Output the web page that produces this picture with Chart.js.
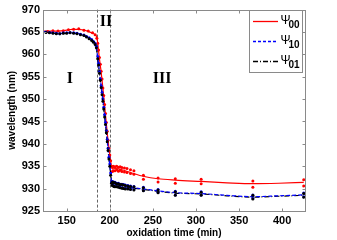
<!DOCTYPE html>
<html><head><meta charset="utf-8">
<script src="https://cdn.jsdelivr.net/npm/chart.js@4"></script>
<style>html,body{margin:0;padding:0;background:#fff}#wrap{width:337px;height:240px}</style>
</head><body><div id="wrap"><canvas id="c" width="337" height="240"></canvas></div>
<script>
// ---- data ----
const xTickValues = [150, 200, 250, 300, 350, 400];
const xMin = 122.5, xMax = 426.5;
const yMin = 925, yMax = 970, yStep = 5;

const redLineT = [122,130,140,150,156,162,168,174,179,183,185,188,190,193,197,200,202,203,206,210,216,224,240,256,276,306,336,366,396,425];
const redLineV = [965.2,965.2,965.2,965.4,965.6,965.6,965.5,965.2,964.8,964.4,963.8,959.0,956.0,950.5,942.5,937.5,935.0,934.4,934.5,934.4,934.1,933.6,932.7,932.2,931.9,931.6,931.3,931.1,931.2,931.4];

const psiLineT = [122,128,135,142,150,158,165,170,175,180,184,186,188,192,196,199,201,202.5,205,210,216,224,240,256,276,306,336,366,396,425];
const blueLineV = [965.1,965.0,964.8,964.7,964.8,964.8,964.6,964.3,963.9,963.2,962.0,959.3,956.1,949.8,942.9,937.0,933.6,931.3,931.1,930.9,930.6,930.3,929.9,929.5,929.1,928.9,928.5,928.2,928.4,928.6];
const blackLineV = [965.0,964.9,964.7,964.6,964.7,964.7,964.5,964.2,963.8,963.0,961.7,958.9,955.7,949.4,942.5,936.7,933.3,931.2,931.0,930.8,930.5,930.2,929.8,929.4,929.0,928.8,928.4,928.1,928.3,928.5];

const redPtT = [122,128,134,140,146,152,158,164,170,175,180,183,
185,186,187,188,189,190,191,192,193,194,195,196,197,198,199,200,201,202,
203,203,204,204,206,206,208,208,210,210,212,212,214,214,217,217,220,220,224,224,228,228,239,239,256,256,276,276,306,306,366,366,425,425];
const redPtV = [965.2,965.1,965.3,965.2,965.3,965.5,965.6,965.7,965.4,965.2,964.8,964.4,
963.6,962.5,961.0,959.3,957.8,956.2,954.5,952.5,950.8,948.8,946.8,944.8,942.8,940.8,939.0,937.5,936.2,935.0,
934.8,933.8,935.0,934.0,934.9,934.0,935.0,934.2,934.8,933.9,934.9,934.1,934.7,933.8,934.6,933.7,934.5,933.6,934.2,933.4,934.0,933.2,933.0,932.1,932.4,931.5,932.2,931.2,932.1,931.1,931.7,930.3,932.0,930.6];

const psiPtT = [122,126,130,134,138,142,146,150,154,158,162,166,170,173,176,179,181,183,184.5,
186,187,188,189,190,191,192,193,194,195,196,197,198,199,200,201,202,
203,203,204,204,205,205,206,206,208,208,210,210,212,212,214,214,216,216,218,218,221,221,224,224,228,228,239,239,256,256,276,276,306,306,366,366,425,425];
const bluePtV = [965.1,965.0,964.9,964.8,964.7,964.6,964.8,964.8,964.9,964.8,964.7,964.5,964.3,964.0,963.7,963.3,962.9,962.4,961.8,
959.5,958.0,956.2,954.5,953.0,951.5,950.0,948.2,946.5,944.8,943.0,941.0,939.0,937.0,935.5,933.5,931.5,
931.6,930.8,931.5,930.7,931.4,930.6,931.4,930.5,931.2,930.5,931.2,930.4,931.0,930.3,931.0,930.2,930.9,930.1,930.8,930.0,930.7,930.0,930.6,929.9,930.5,929.8,930.3,929.6,929.8,929.2,929.4,928.6,929.3,928.6,928.6,927.8,929.0,928.2];
const blackPtV = [965.0,964.9,964.8,964.7,964.6,964.6,964.7,964.7,964.8,964.7,964.6,964.4,964.2,963.9,963.5,963.1,962.7,962.2,961.5,
959.0,957.6,955.8,954.2,952.6,951.0,949.5,947.8,946.0,944.3,942.5,940.5,938.5,936.6,935.0,933.0,931.2,
931.5,930.7,931.4,930.6,931.3,930.5,931.3,930.4,931.1,930.4,931.1,930.3,930.9,930.2,930.9,930.1,930.8,930.0,930.7,929.9,930.6,929.9,930.5,929.8,930.4,929.7,930.2,929.5,929.7,929.1,929.3,928.5,929.2,928.5,928.5,927.7,928.9,928.1];

const phaseBounds = [185.5, 200.3];
const regionLabels = ['I', 'II', 'III'];
const regionT = [153.8, 195.5, 260.7];
const regionV = [954.5, 967.2, 954.5];

const seriesNames = ['Ψ', 'Ψ', 'Ψ'];
const seriesSubs = ['00', '10', '01'];
const seriesColors = ['#ff0000', '#0000ff', '#000000'];
const seriesDash = [[], [4, 2], [5, 2, 1, 2]];

const xTitle = 'oxidation time (min)';
const yTitle = 'wavelength (nm)';

// ---- build ----
const xy = (t, v) => t.map((x, i) => ({x: x, y: v[i]}));
const lineDs = (t, v, i, ord) => ({
  data: xy(t, v), showLine: true, borderColor: seriesColors[i], borderWidth: 1.2,
  borderDash: seriesDash[i], pointRadius: 0, fill: false, cubicInterpolationMode: 'monotone', order: ord
});
const ptDs = (t, v, i, ord) => ({
  data: xy(t, v), showLine: false, pointRadius: 1.5, pointBorderWidth: 0,
  pointBackgroundColor: seriesColors[i], pointBorderColor: seriesColors[i], order: ord
});

const FRAME = '#8a8a8a';

const decor = {
  id: 'decor',
  beforeDatasetsDraw(chart) {
    const {ctx, chartArea: a, scales: {x}} = chart;
    ctx.save();
    ctx.strokeStyle = '#666';
    ctx.lineWidth = 1;
    ctx.setLineDash([3, 2]);
    phaseBounds.forEach(t => {
      const px = Math.round(x.getPixelForValue(t)) + 0.5;
      ctx.beginPath(); ctx.moveTo(px, a.top); ctx.lineTo(px, a.bottom); ctx.stroke();
    });
    ctx.restore();
  },
  afterDatasetsDraw(chart) {
    const {ctx, chartArea: a, scales: {x, y}} = chart;
    ctx.save();
    // region labels
    ctx.fillStyle = '#000';
    ctx.font = 'bold 16px "Liberation Serif"';
    ctx.textAlign = 'center'; ctx.textBaseline = 'middle';
    regionLabels.forEach((s, i) => ctx.fillText(s, x.getPixelForValue(regionT[i]), y.getPixelForValue(regionV[i])));
    // frame + inward ticks
    ctx.strokeStyle = FRAME; ctx.lineWidth = 1; ctx.setLineDash([]);
    const L = Math.round(a.left) + 0.5, R = Math.round(a.right) + 0.5, T = Math.round(a.top) + 0.5, B = Math.round(a.bottom) + 0.5;
    ctx.strokeRect(L, T, R - L, B - T);
    ctx.beginPath();
    xTickValues.forEach(v => {
      const px = Math.round(x.getPixelForValue(v)) + 0.5;
      ctx.moveTo(px, B); ctx.lineTo(px, B - 3);
      ctx.moveTo(px, T); ctx.lineTo(px, T + 3);
    });
    for (let v = yMin; v <= yMax; v += yStep) {
      const py = Math.round(y.getPixelForValue(v)) + 0.5;
      ctx.moveTo(L, py); ctx.lineTo(L + 3, py);
      ctx.moveTo(R, py); ctx.lineTo(R - 3, py);
    }
    ctx.stroke();
    // legend
    const lx = 249, ly = 10, lw = 53, lh = 62;
    ctx.fillStyle = '#fff';
    ctx.fillRect(lx, ly, lw, lh);
    ctx.strokeStyle = FRAME;
    ctx.strokeRect(lx + 0.5, ly + 0.5, lw, lh);
    const rows = [21.5, 41.5, 61.5];
    rows.forEach((ry, i) => {
      ctx.strokeStyle = seriesColors[i]; ctx.lineWidth = 1.3;
      ctx.setLineDash(i === 1 ? [3, 2] : seriesDash[i]);
      ctx.beginPath(); ctx.moveTo(253, ry); ctx.lineTo(278, ry); ctx.stroke();
      ctx.setLineDash([]);
      ctx.fillStyle = '#000';
      ctx.textAlign = 'left'; ctx.textBaseline = 'middle';
      ctx.font = '12px "Liberation Sans"';
      ctx.fillText(seriesNames[i], 280.5, ry - 1);
      ctx.font = 'bold 10px "Liberation Sans"';
      ctx.fillText(seriesSubs[i], 288.5, ry + 4);
    });
    ctx.restore();
  }
};

new Chart(document.getElementById('c'), {
  type: 'scatter',
  data: {
    datasets: [
      ptDs(psiPtT, blackPtV, 2, 0),
      lineDs(psiLineT, blueLineV, 1, 1),
      lineDs(psiLineT, blackLineV, 2, 2),
      ptDs(psiPtT, bluePtV, 1, 3),
      ptDs(redPtT, redPtV, 0, 4),
      lineDs(redLineT, redLineV, 0, 5)
    ]
  },
  options: {
    responsive: false, animation: false,
    layout: {padding: {left: 0, right: 32, top: 6, bottom: 0}},
    plugins: {legend: {display: false}, tooltip: {enabled: false}},
    scales: {
      x: {
        type: 'linear', min: xMin, max: xMax,
        afterBuildTicks: s => { s.ticks = xTickValues.map(v => ({value: v})); },
        afterFit: s => { s.height = 29; },
        grid: {display: false, drawTicks: false, tickLength: 0}, border: {display: false},
        ticks: {color: '#000', padding: 3, maxRotation: 0, font: {family: 'Liberation Sans', size: 11, weight: 'bold'}},
        title: {display: true, text: xTitle, color: '#000', padding: {top: 0, bottom: 1}, font: {family: 'Liberation Sans', size: 10, weight: 'bold'}}
      },
      y: {
        type: 'linear', min: yMin, max: yMax,
        afterFit: s => { s.width = 43; },
        grid: {display: false, drawTicks: false, tickLength: 0}, border: {display: false},
        ticks: {stepSize: yStep, color: '#000', padding: 3, font: {family: 'Liberation Sans', size: 11, weight: 'bold'}},
        title: {display: true, text: yTitle, color: '#000', padding: {top: 6, bottom: 0}, font: {family: 'Liberation Sans', size: 10, weight: 'bold'}}
      }
    }
  },
  plugins: [decor]
});
</script>
</body></html>
